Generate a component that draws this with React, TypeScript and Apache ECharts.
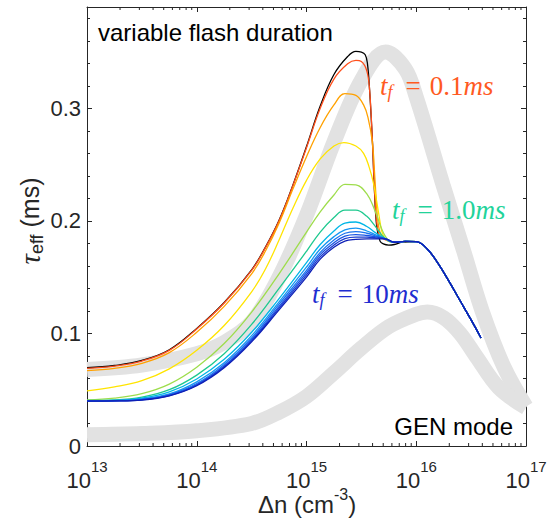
import React, { useEffect, useRef } from "react";
import * as echarts from "echarts";

// ---------- data (x as log10 of Δn, y = τ_eff in ms) ----------
const yMax = 0.39;
const xMin = 1e13;
const xMax = 1e17;

const grayUpperExp = [13, 13.5, 14, 14.25, 14.5, 14.75, 15, 15.25, 15.5, 15.72, 15.9, 16, 16.25, 16.43, 16.6, 16.8, 17];
const grayUpperVal = [0.068, 0.072, 0.082, 0.092, 0.11, 0.15, 0.205, 0.27, 0.325, 0.35, 0.335, 0.31, 0.23, 0.174, 0.12, 0.07, 0.035];

const grayLowerExp = [13, 13.5, 14, 14.5, 14.75, 15, 15.25, 15.5, 15.75, 16, 16.1, 16.25, 16.4, 16.55, 16.75, 17];
const grayLowerVal = [0.01, 0.011, 0.0135, 0.02, 0.03, 0.044, 0.065, 0.087, 0.106, 0.117, 0.119, 0.114, 0.1, 0.079, 0.052, 0.034];

// shared converged tail of all flash-duration curves
const tailExp = [15.8, 15.9, 16.0, 16.1, 16.2, 16.3, 16.4, 16.5, 16.59];
const tailVal = [0.181, 0.1818, 0.1815, 0.175, 0.162, 0.146, 0.129, 0.112, 0.096];

const blackExp = [13, 13.25, 13.5, 13.75, 14, 14.25, 14.5, 14.625, 14.75, 14.875, 15, 15.125, 15.25, 15.375, 15.45, 15.5, 15.535, 15.555, 15.575, 15.6, 15.62, 15.64, 15.67, 15.7, 15.75, 15.8, 15.88];
const blackVal = [0.0695, 0.0715, 0.076, 0.0855, 0.1045, 0.1275, 0.1565, 0.1765, 0.2005, 0.2315, 0.266, 0.302, 0.33, 0.346, 0.3505, 0.35, 0.3476, 0.34, 0.316, 0.272, 0.225, 0.195, 0.182, 0.1795, 0.1785, 0.179, 0.1812];

const redExp = [13, 13.25, 13.5, 13.75, 14, 14.25, 14.5, 14.625, 14.75, 14.875, 15, 15.125, 15.25, 15.375, 15.45, 15.5, 15.55, 15.575, 15.6, 15.63, 15.66, 15.7];
const redVal = [0.069, 0.071, 0.0755, 0.085, 0.104, 0.127, 0.156, 0.176, 0.2, 0.231, 0.265, 0.3, 0.326, 0.3395, 0.3425, 0.3415, 0.333, 0.316, 0.272, 0.21, 0.188, 0.184];

const orangeExp = [13, 13.25, 13.5, 13.75, 14, 14.25, 14.5, 14.625, 14.75, 14.875, 15, 15.125, 15.25, 15.35, 15.45, 15.52, 15.56, 15.6, 15.625, 15.65, 15.68, 15.72];
const orangeVal = [0.067, 0.069, 0.0735, 0.083, 0.101, 0.124, 0.153, 0.173, 0.198, 0.228, 0.257, 0.283, 0.303, 0.313, 0.3115, 0.303, 0.292, 0.27, 0.235, 0.2, 0.187, 0.184];

const yellowExp = [13, 13.25, 13.5, 13.75, 14, 14.25, 14.5, 14.625, 14.75, 14.875, 15, 15.125, 15.25, 15.34, 15.45, 15.52, 15.57, 15.61, 15.657, 15.688, 15.72];
const yellowVal = [0.049, 0.0525, 0.058, 0.0685, 0.085, 0.107, 0.137, 0.157, 0.183, 0.211, 0.236, 0.255, 0.2665, 0.2696, 0.2665, 0.26, 0.248, 0.2335, 0.207, 0.19, 0.184];

const riseExp = [13, 13.25, 13.5, 13.75, 14, 14.25, 14.5, 14.75, 15, 15.125, 15.25, 15.35, 15.45, 15.55, 15.62, 15.72];
const limeVal = [0.041, 0.0425, 0.0465, 0.055, 0.07, 0.091, 0.119, 0.153, 0.19, 0.208, 0.223, 0.2325, 0.232, 0.224, 0.21, 0.186];
const tealVal = [0.0405, 0.041, 0.0435, 0.05, 0.063, 0.082, 0.108, 0.14, 0.173, 0.19, 0.203, 0.2095, 0.2095, 0.204, 0.196, 0.184];
const cyanVal = [0.0402, 0.0405, 0.0425, 0.048, 0.0595, 0.077, 0.101, 0.131, 0.163, 0.179, 0.191, 0.198, 0.199, 0.195, 0.19, 0.184];
const blue1Val = [0.0401, 0.0404, 0.0418, 0.0462, 0.057, 0.074, 0.098, 0.128, 0.159, 0.175, 0.186, 0.192, 0.1935, 0.191, 0.188, 0.184];
const blue2Val = [0.04, 0.0403, 0.0415, 0.0457, 0.0555, 0.0725, 0.096, 0.126, 0.156, 0.172, 0.183, 0.189, 0.1905, 0.189, 0.187, 0.184];
const blue3Val = [0.04, 0.0402, 0.0412, 0.0452, 0.0545, 0.071, 0.0945, 0.124, 0.154, 0.17, 0.1805, 0.1865, 0.1878, 0.187, 0.186, 0.184];
const blue4Val = [0.04, 0.0401, 0.041, 0.0448, 0.054, 0.0703, 0.0935, 0.1225, 0.152, 0.168, 0.1785, 0.1842, 0.1855, 0.1855, 0.185, 0.184];
const blue5Val = [0.0398, 0.04, 0.0408, 0.0445, 0.0535, 0.0695, 0.0925, 0.121, 0.15, 0.166, 0.1765, 0.182, 0.1835, 0.184, 0.184, 0.184];

const minorMultipliers = [2, 3, 4, 5, 6, 7, 8, 9];
const decades = [13, 14, 15, 16];

const axisColor = "#262626";
const sans = '"Liberation Sans", Arial, Helvetica, sans-serif';
const serif = '"Liberation Serif", "Times New Roman", serif';

const toPts = (ex: number[], vals: number[]) => ex.map((e, i) => [Math.pow(10, e), vals[i]]);
const withTail = (ex: number[], vals: number[]) => toPts(ex, vals).concat(toPts(tailExp, tailVal));

export default function App() {
  const ref = useRef<HTMLDivElement>(null);
  useEffect(() => {
    if (!ref.current) return;
    const chart = echarts.init(ref.current, undefined, { renderer: "svg" });

    const colored = [
      { name: "black", color: "#000000", data: toPts(blackExp, blackVal).concat(toPts(tailExp.slice(2), tailVal.slice(2))) },
      { name: "red", color: "#ff4f1c", data: withTail(redExp, redVal) },
      { name: "orange", color: "#ffa100", data: withTail(orangeExp, orangeVal) },
      { name: "yellow", color: "#ffe400", data: withTail(yellowExp, yellowVal) },
      { name: "lime", color: "#9edd4c", data: withTail(riseExp, limeVal) },
      { name: "teal", color: "#1ec98f", data: withTail(riseExp, tealVal) },
      { name: "cyan", color: "#00b6e6", data: withTail(riseExp, cyanVal) },
      { name: "blue1", color: "#1496f2", data: withTail(riseExp, blue1Val) },
      { name: "blue2", color: "#1b74f0", data: withTail(riseExp, blue2Val) },
      { name: "blue3", color: "#1a55e3", data: withTail(riseExp, blue3Val) },
      { name: "blue4", color: "#1a3bd0", data: withTail(riseExp, blue4Val) },
      { name: "blue5", color: "#0d1fb5", data: withTail(riseExp, blue5Val) },
    ];

    const minorTicks: number[][] = [];
    decades.forEach((d) => minorMultipliers.forEach((m) => minorTicks.push([m * Math.pow(10, d), 0])));

    const baseX = {
      type: "log",
      logBase: 10,
      min: xMin,
      max: xMax,
      axisLine: { show: true, onZero: false, lineStyle: { color: axisColor, width: 1 } },
      axisTick: { show: true, inside: true, length: 5, lineStyle: { color: axisColor } },
      splitLine: { show: false },
    };
    const baseY = {
      type: "value",
      min: 0,
      max: yMax,
      axisLine: { show: true, onZero: false, lineStyle: { color: axisColor, width: 1 } },
      splitLine: { show: false },
    };

    const option: any = {
      animation: false,
      backgroundColor: "#ffffff",
      grid: { left: 87, right: 31, top: 7, bottom: 78, containLabel: false },
      xAxis: [
        {
          ...baseX,
          position: "bottom",
          axisLabel: {
            margin: 13,
            formatter: (v: number) => `{b|10}{s|${Math.round(Math.log10(v))}}`,
            rich: {
              b: { fontSize: 22, fontFamily: sans, color: axisColor, lineHeight: 32, verticalAlign: "bottom" },
              s: { fontSize: 15, fontFamily: sans, color: axisColor, lineHeight: 16, verticalAlign: "top" },
            },
          },
        },
        { ...baseX, position: "top", axisLabel: { show: false } },
      ],
      yAxis: [
        {
          ...baseY,
          position: "left",
          interval: 0.1,
          axisTick: { show: true, inside: true, length: 5, lineStyle: { color: axisColor } },
          axisLabel: {
            margin: 6,
            showMaxLabel: false,
            fontSize: 22,
            fontFamily: sans,
            color: axisColor,
            formatter: (v: number) => (v === 0 ? "0" : v.toFixed(1)),
          },
        },
        {
          ...baseY,
          position: "right",
          interval: 0.1,
          axisTick: { show: true, inside: true, length: 5, lineStyle: { color: axisColor } },
          axisLabel: { show: false },
        },
        {
          ...baseY,
          position: "left",
          interval: 0.02,
          axisLine: { show: false },
          axisTick: { show: true, inside: true, length: 3, lineStyle: { color: axisColor } },
          axisLabel: { show: false },
        },
        {
          ...baseY,
          position: "right",
          interval: 0.02,
          axisLine: { show: false },
          axisTick: { show: true, inside: true, length: 3, lineStyle: { color: axisColor } },
          axisLabel: { show: false },
        },
      ],
      series: [
        {
          type: "line",
          data: toPts(grayUpperExp, grayUpperVal),
          smooth: 0.35,
          showSymbol: false,
          clip: false,
          lineStyle: { color: "#e2e2e2", width: 15, cap: "butt" },
          z: 1,
          silent: true,
        },
        {
          type: "line",
          data: toPts(grayLowerExp, grayLowerVal),
          smooth: 0.35,
          showSymbol: false,
          clip: false,
          lineStyle: { color: "#e2e2e2", width: 15, cap: "butt" },
          z: 1,
          silent: true,
        },
        ...colored.map((c) => ({
          type: "line",
          name: c.name,
          data: c.data,
          smooth: 0.4,
          showSymbol: false,
          lineStyle: { color: c.color, width: 1.3 },
          z: 3,
          silent: true,
        })),
        {
          type: "custom",
          xAxisIndex: 0,
          yAxisIndex: 0,
          data: minorTicks,
          clip: false,
          silent: true,
          z: 5,
          renderItem: (params: any, api: any) => {
            const x = api.value(0);
            const b = api.coord([x, 0]);
            const t = api.coord([x, yMax]);
            return {
              type: "group",
              children: [
                { type: "line", shape: { x1: b[0], y1: b[1], x2: b[0], y2: b[1] - 3 }, style: { stroke: axisColor, lineWidth: 1 } },
                { type: "line", shape: { x1: t[0], y1: t[1], x2: t[0], y2: t[1] + 3 }, style: { stroke: axisColor, lineWidth: 1 } },
              ],
            };
          },
        },
      ],
      graphic: [
        {
          type: "text",
          x: 98,
          y: 32,
          z: 100,
          style: { text: "variable flash duration", font: `24px ${sans}`, fill: "#000", align: "left", verticalAlign: "middle" },
        },
        {
          type: "text",
          x: 513,
          y: 426,
          z: 100,
          style: { text: "GEN mode", font: `24px ${sans}`, fill: "#000", align: "right", verticalAlign: "middle" },
        },
        ...[
          { x: 380, y: 86, num: "0.1", color: "#ff5a1f" },
          { x: 392, y: 210, num: "1.0", color: "#22d39a" },
          { x: 312, y: 294, num: "10", color: "#1f2ed1" },
        ].map((m) => ({
          type: "text",
          x: m.x,
          y: m.y,
          z: 100,
          style: {
            text: `{t|t}{f|f}{e|=}{n|${m.num}}{t|ms}`,
            align: "left",
            verticalAlign: "middle",
            rich: {
              t: { fontFamily: serif, fontStyle: "italic", fontSize: 27, fill: m.color, lineHeight: 30 },
              f: { fontFamily: serif, fontStyle: "italic", fontSize: 18, fill: m.color, lineHeight: 30, verticalAlign: "bottom", padding: [0, 4, 0, 0] },
              e: { fontFamily: serif, fontSize: 27, fill: m.color, lineHeight: 30, padding: [0, 9, 0, 9] },
              n: { fontFamily: serif, fontSize: 27, fill: m.color, lineHeight: 30 },
            },
          },
        })),
        {
          type: "text",
          x: 30,
          y: 221,
          z: 100,
          rotation: Math.PI / 2,
          style: {
            text: "{tau|τ}{sub|eff}{n| (ms)}",
            align: "center",
            verticalAlign: "middle",
            rich: {
              tau: { fontFamily: serif, fontStyle: "italic", fontSize: 29, fill: axisColor, lineHeight: 32 },
              sub: { fontFamily: sans, fontSize: 18, fill: axisColor, lineHeight: 32, verticalAlign: "bottom" },
              n: { fontFamily: sans, fontSize: 25, fill: axisColor, lineHeight: 32 },
            },
          },
        },
        {
          type: "text",
          x: 307,
          y: 501,
          z: 100,
          style: {
            text: "{n|Δn (cm}{sup|-3}{n|)}",
            align: "center",
            verticalAlign: "middle",
            rich: {
              n: { fontFamily: sans, fontSize: 24, fill: axisColor, lineHeight: 30, verticalAlign: "bottom" },
              sup: { fontFamily: sans, fontSize: 16, fill: axisColor, lineHeight: 16, verticalAlign: "top" },
            },
          },
        },
      ],
    };

    chart.setOption(option);
    return () => chart.dispose();
  }, []);

  return (
    <div
      ref={ref}
      style={{ position: "absolute", left: 0, top: 0, width: 557, height: 524, background: "#fff" }}
    />
  );
}
